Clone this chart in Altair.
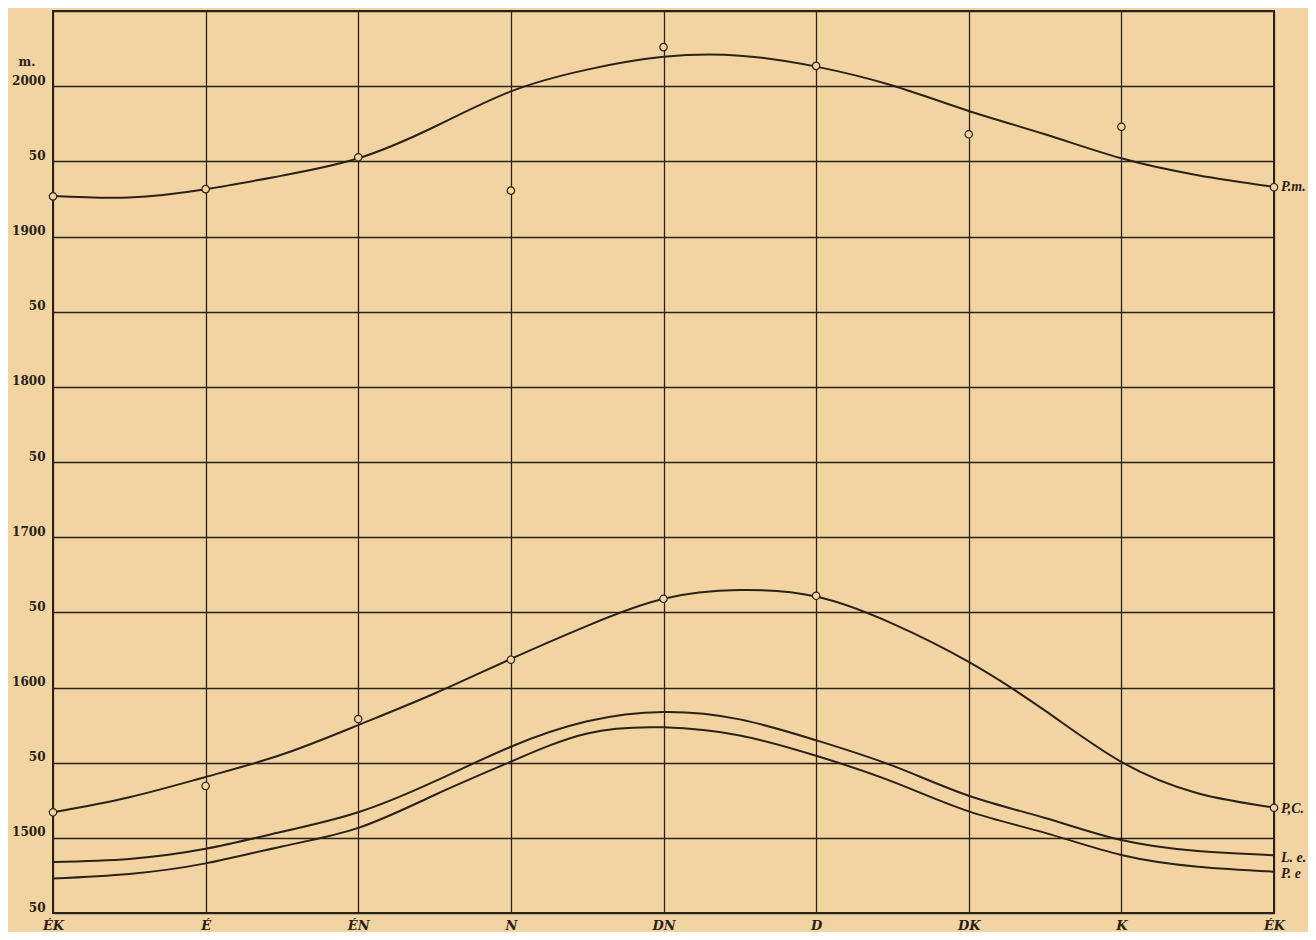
import json
import altair as alt
import pandas as pd

# ---- data ----
categories = ["ÉK", "É", "ÉN", "N", "DN", "D", "DK", "K", "ÉK"]
cat_pos = [0, 1, 2, 3, 4, 5, 6, 7, 8]

curve_pos = [0, 0.5, 1, 1.5, 2, 2.5, 3, 3.5, 4, 4.5, 5, 5.5, 6, 6.5, 7, 7.5, 8]
pm_curve = [1927, 1926, 1931.5, 1940.5, 1952, 1973, 1996.5, 2011, 2019.5, 2020.3,
            2013, 2000.4, 1983.5, 1968, 1952, 1940.8, 1933]
pc_curve = [1517, 1527, 1540.5, 1555.4, 1575, 1596, 1619, 1641, 1659, 1664.8,
            1660.5, 1642.5, 1617, 1584.6, 1550.5, 1529.7, 1520.2]
le_curve = [1484, 1486, 1492.7, 1504, 1517, 1537.5, 1560.6, 1577.5, 1583.7, 1578.8,
            1564.9, 1548, 1528, 1513.2, 1498.5, 1491.2, 1488.4]
pe_curve = [1473, 1476, 1483, 1494.3, 1506.6, 1528.5, 1550.7, 1569.4, 1573.5, 1568.1,
            1554.6, 1537.4, 1517.6, 1503.3, 1488.6, 1480.8, 1477.5]

pm_points = [1926.7, 1931.5, 1952.7, 1930.5, 2026, 2013.5, 1968, 1973, 1932.8]
pc_points = [1517, 1534.5, 1579, 1618.5, 1659, 1661, None, None, 1520]

series_names = ["P.m.", "P,C.", "L. e.", "P. e"]
label_values = [1932.8, 1519, 1486.5, 1475.7]

y_ticks = list(range(1450, 2051, 50))

# ---- tables ----
curves = [pm_curve, pc_curve, le_curve, pe_curve]
curve_rows = []
for name, vals in zip(series_names, curves):
    for xp, v in zip(curve_pos, vals):
        curve_rows.append({"series": name, "x": xp, "y": v})
curve_df = pd.DataFrame(curve_rows)

point_rows = []
for name, vals in zip(series_names[:2], [pm_points, pc_points]):
    for xp, v in zip(cat_pos, vals):
        if v is not None:
            point_rows.append({"series": name, "x": xp, "y": v})
point_df = pd.DataFrame(point_rows)

label_df = pd.DataFrame({"series": series_names, "x": [8] * 4, "y": label_values})
unit_df = pd.DataFrame({"t": ["m."]})

paper = "#F2D4A2"
ink = "#2a2119"

label_js = json.dumps(categories, ensure_ascii=False)

x_scale = alt.Scale(domain=[0, 8], nice=False, zero=False)
y_scale = alt.Scale(domain=[1450, 2050], nice=False, zero=False)

x_axis = alt.Axis(
    values=cat_pos,
    labelExpr=f"{label_js}[datum.value]",
    grid=True, gridColor=ink, gridWidth=1.3, gridOpacity=1,
    domain=False, ticks=False,
    labelFont="DejaVu Serif", labelFontStyle="italic", labelFontWeight="bold",
    labelFontSize=13, labelColor=ink, labelPadding=6, labelFlush=False,
    labelOverlap=False, title=None,
)
y_axis = alt.Axis(
    values=y_ticks,
    labelExpr="datum.value == 2050 ? '' : (datum.value % 100 == 0 ? datum.value : '50')",
    grid=True, gridColor=ink, gridWidth=1.3, gridOpacity=1,
    domain=False, ticks=False,
    labelFont="DejaVu Serif", labelFontWeight="bold", labelFontSize=12,
    labelColor=ink, labelPadding=8, labelBaseline="alphabetic", labelOffset=-2,
    labelOverlap=False, title=None,
)

X = alt.X("x:Q", scale=x_scale, axis=x_axis)
Y = alt.Y("y:Q", scale=y_scale, axis=y_axis)

lines = alt.Chart(curve_df).mark_line(
    interpolate="natural", strokeWidth=2, color=ink
).encode(x=X, y=Y, detail="series:N")

points = alt.Chart(point_df).mark_circle(
    size=55, fill=paper, stroke=ink, strokeWidth=1.2, opacity=1, fillOpacity=1
).encode(x=X, y=Y)

labels = alt.Chart(label_df).mark_text(
    align="left", baseline="middle", dx=7, font="Liberation Serif",
    fontStyle="italic", fontWeight="bold", fontSize=14, color=ink
).encode(x=X, y=Y, text="series:N")

unit = alt.Chart(unit_df).mark_text(
    align="center", baseline="middle", font="DejaVu Serif",
    fontWeight="bold", fontSize=12, color=ink
).encode(x=alt.value(-26), y=alt.value(51), text="t:N")

chart = alt.layer(lines, points, labels, unit).properties(
    width=1221, height=902,
    padding={"left": 45, "top": 3, "right": 34, "bottom": 19},
    autosize=alt.AutoSizeParams(type="none"),
).configure(background=paper).configure_view(stroke=ink, strokeWidth=2)

chart.save("out.html", embed_options={"renderer": "svg", "actions": False})
